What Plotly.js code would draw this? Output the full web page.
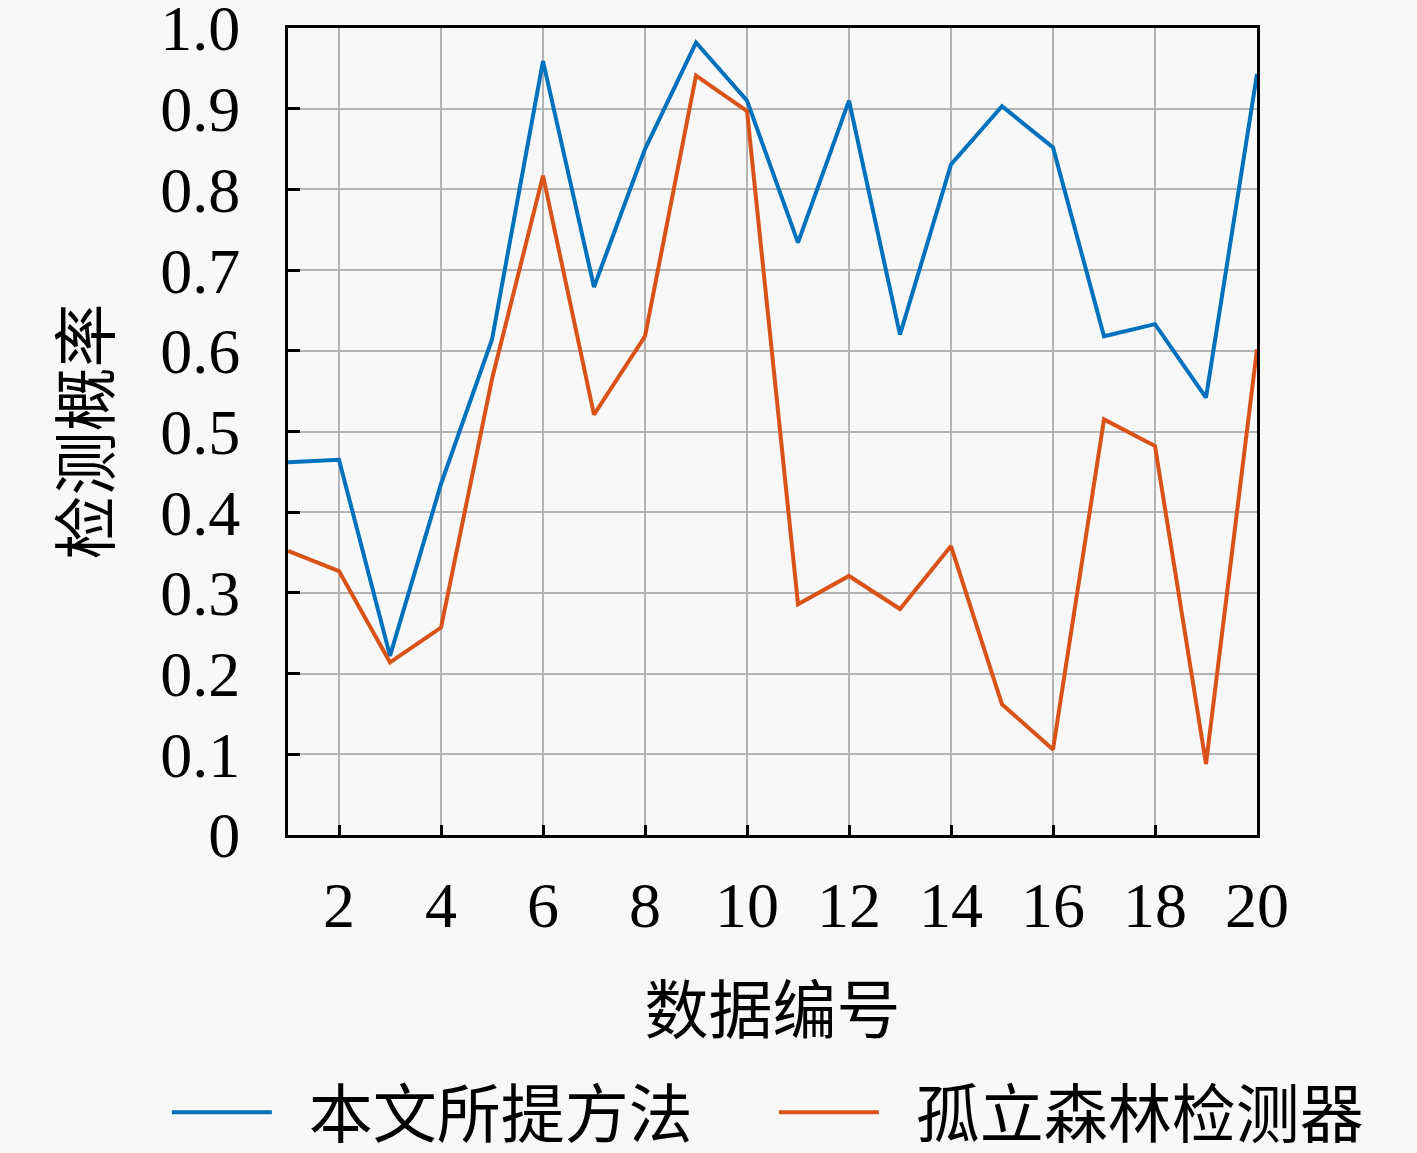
<!DOCTYPE html>
<html>
<head>
<meta charset="utf-8">
<script src="https://cdn.plot.ly/plotly-3.0.1.min.js"></script>
<style>
  body { margin: 0; background: #f8f8f8; }
  #chart { width: 1417px; height: 1153px; }
</style>
</head>
<body>
<div id="chart"></div>
<script>
// data numbers 1..20
var ids = [1, 2, 3, 4, 5, 6, 7, 8, 9, 10, 11, 12, 13, 14, 15, 16, 17, 18, 19, 20]

// detection probability, proposed method
var proposed = [0.462, 0.465, 0.222, 0.435, 0.614, 0.959, 0.679, 0.85, 0.982, 0.91,
  0.734, 0.91, 0.62, 0.831, 0.903, 0.852, 0.618, 0.633, 0.542, 0.943]

// detection probability, isolation forest detector
var iforest = [0.352, 0.327, 0.214, 0.257, 0.565, 0.817, 0.521, 0.618, 0.941, 0.897,
  0.286, 0.321, 0.28, 0.358, 0.162, 0.106, 0.515, 0.482, 0.088, 0.602]

var names = ["本文所提方法", "孤立森林检测器"]

var yTickVals = [0, 0.1, 0.2, 0.3, 0.4, 0.5, 0.6, 0.7, 0.8, 0.9, 1.0]
var yTickText = ["0", "0.1", "0.2", "0.3", "0.4", "0.5", "0.6", "0.7", "0.8", "0.9", "1.0"]
var xTickVals = [2, 4, 6, 8, 10, 12, 14, 16, 18, 20]

var numFont = "Liberation Serif, DejaVu Serif, serif"
var cjkFont = "Noto Sans CJK SC, sans-serif"

// en space keeps a gap between legend line and label
var gap = "\u2002"

var data = [
  {
    type: "scatter",
    mode: "lines",
    x: ids,
    y: proposed,
    name: gap + names[0],
    line: { color: "#0072BD", width: 4 },
  },
  {
    type: "scatter",
    mode: "lines",
    x: ids,
    y: iforest,
    name: gap + names[1],
    line: { color: "#D95319", width: 4 },
  },
]

var layout = {
  width: 1417,
  height: 1153,
  margin: { t: 28, r: 160, l: 288, b: 318, autoexpand: false },
  paper_bgcolor: "#f8f8f8",
  plot_bgcolor: "#f8f8f8",
  showlegend: true,
  legend: {
    orientation: "h",
    x: -0.125,
    xanchor: "left",
    y: -0.404,
    yanchor: "bottom",
    itemwidth: 100,
    entrywidth: 492,
    font: { family: cjkFont, size: 64, color: "#000" },
    bgcolor: "rgba(0,0,0,0)",
  },
  xaxis: {
    range: [1, 20],
    tickvals: xTickVals,
    ticks: "inside",
    ticklen: 10,
    tickwidth: 3,
    tickcolor: "#000",
    showline: true,
    linecolor: "#000",
    linewidth: 3,
    mirror: true,
    showgrid: true,
    gridcolor: "#b4b4b4",
    gridwidth: 1.5,
    zeroline: false,
    ticklabelstandoff: 12,
    ticklabeloverflow: "allow",
    tickfont: { family: numFont, size: 64, color: "#000" },
    title: {
      text: "数据编号",
      standoff: 49,
      font: { family: cjkFont, size: 64, color: "#000" },
    },
  },
  yaxis: {
    range: [0, 1],
    tickvals: yTickVals,
    ticktext: yTickText,
    ticks: "inside",
    ticklen: 12,
    tickwidth: 3,
    tickcolor: "#000",
    showline: true,
    linecolor: "#000",
    linewidth: 3,
    mirror: true,
    showgrid: true,
    gridcolor: "#b4b4b4",
    gridwidth: 1.5,
    zeroline: false,
    ticklabelstandoff: 32,
    ticklabeloverflow: "allow",
    tickfont: { family: numFont, size: 64, color: "#000" },
    title: {
      text: "检测概率",
      standoff: 30,
      font: { family: cjkFont, size: 64, color: "#000" },
    },
  },
}

Plotly.newPlot("chart", data, layout, { displayModeBar: false })
</script>
</body>
</html>
